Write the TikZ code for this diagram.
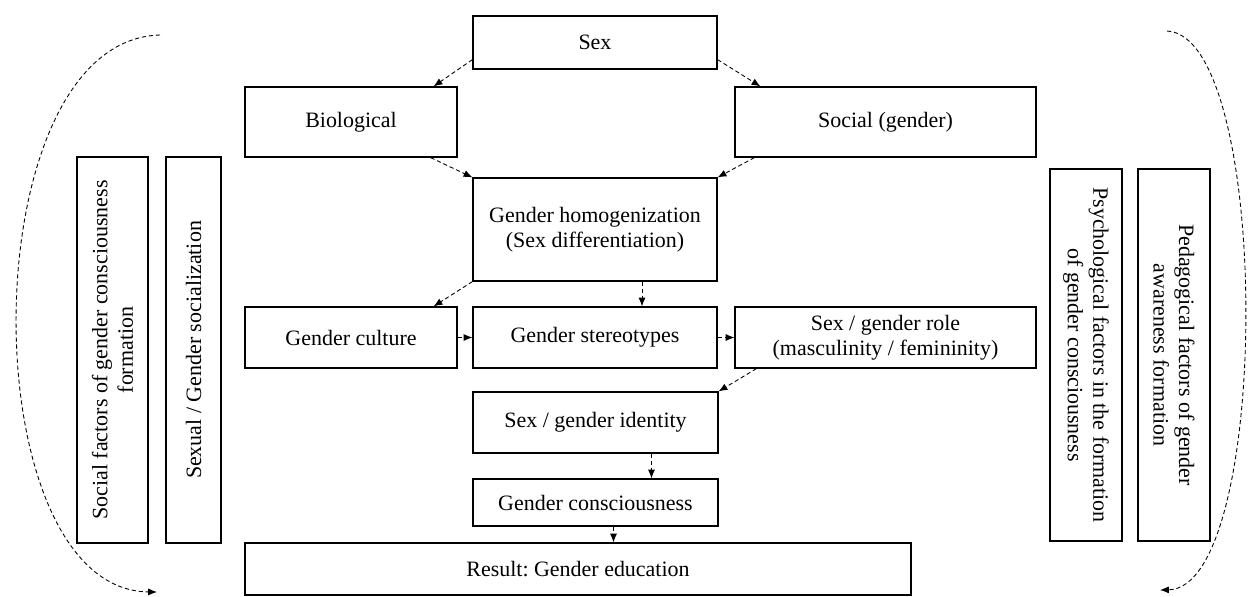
\documentclass[tikz,border=0pt]{standalone}
\usepackage{fontspec}
\setmainfont{Liberation Serif}
\usetikzlibrary{arrows.meta}
\frenchspacing

\begin{document}
\begin{tikzpicture}[
	x=0.02cm, y=-0.02cm,
	font=\fontsize{12.5}{14.5}\selectfont,
	box/.style={draw, line width=0.7pt, inner sep=0pt, align=center},
	vbox/.style={box, minimum width=7.72cm},
	link/.style={line width=0.5pt, dash pattern=on 2.4pt off 1.6pt,
		-{Latex[length=5pt,width=4pt]}},
	]
\useasboundingbox (0,0) rectangle (1251,596);
% middle column
\node [box, minimum width=4.88cm, minimum height=1.06cm] (sex) at (595,42.5) {Sex};
\node [box, minimum width=4.24cm, minimum height=1.4cm] (bio) at (351,122) {Biological};
\node [box, minimum width=6.02cm, minimum height=1.4cm] (soc) at (885.5,122) {Social (gender)};
\node [box, minimum width=4.88cm, minimum height=2.06cm] (homog) at (595,229.5)
	{Gender homogenization\\(Sex differentiation)};
\node [box, minimum width=4.24cm, minimum height=1.22cm] (cult) at (351,337.5) {Gender culture};
\node [box, minimum width=4.88cm, minimum height=1.22cm] (ster) at (595,337.5) {Gender stereotypes};
\node [box, minimum width=6.02cm, minimum height=1.22cm] (role) at (885.5,337.5)
	{Sex / gender role\\(masculinity / femininity)};
\node [box, minimum width=4.9cm, minimum height=1.22cm] (ident) at (595.5,422.5) {Sex / gender identity};
\node [box, minimum width=4.9cm, minimum height=0.94cm] (cons) at (595.5,502.5) {Gender consciousness};
\node [box, minimum width=13.32cm, minimum height=1.04cm] (res) at (578,569) {Result: Gender education};
% side factors
\node [vbox, rotate=90, minimum height=1.42cm] (socf) at (112.5,350)
	{Social factors of gender consciousness\\formation};
\node [vbox, rotate=90, minimum height=1.1cm] (sexsoc) at (193.5,350) {Sexual / Gender socialization};
\node [vbox, rotate=-90, minimum width=7.44cm, minimum height=1.44cm] (psyf) at (1086,355)
	{Psychological factors in the formation\\of gender consciousness};
\node [vbox, rotate=-90, minimum width=7.44cm, minimum height=1.44cm] (pedf) at (1174,355)
	{Pedagogical factors of gender\\awareness formation};
% links
\draw [link] ([yshift=0.2cm]sex.south west) -- ([xshift=-0.48cm]bio.north east);
\draw [link] ([yshift=0.2cm]sex.south east) -- ([xshift=0.52cm]soc.north west);
\draw [link] ([xshift=-0.54cm]bio.south east) -- (homog.north west);
\draw [link] ([xshift=0.4cm]soc.south west) -- (homog.north east);
\draw [link] (homog.south west) -- ([xshift=-0.48cm]cult.north east);
\draw [link] ([xshift=0.94cm]homog.south) -- ([xshift=0.94cm]ster.north);
\draw [link] (cult.east) -- (ster.west);
\draw [link] (ster.east) -- (role.west);
\draw [link] ([xshift=0.44cm]role.south west) -- (ident.north east);
\draw [link] ([xshift=1.12cm]ident.south) -- ([xshift=1.12cm]cons.north);
\draw [link] ([xshift=0.36cm]cons.south) -- ([xshift=0.36cm]cons.south |- res.north);
% feedback curves
\coordinate (lstart) at (160,35);
\coordinate (lend) at (157,592);
\coordinate (rstart) at (1167,31);
\coordinate (rend) at (1160,590);
\draw [link] (lstart) .. controls (-30,40) and (-30,590) .. (lend);
\draw [link] (rstart) .. controls (1272,36) and (1272,588) .. (rend);
\end{tikzpicture}
\end{document}
